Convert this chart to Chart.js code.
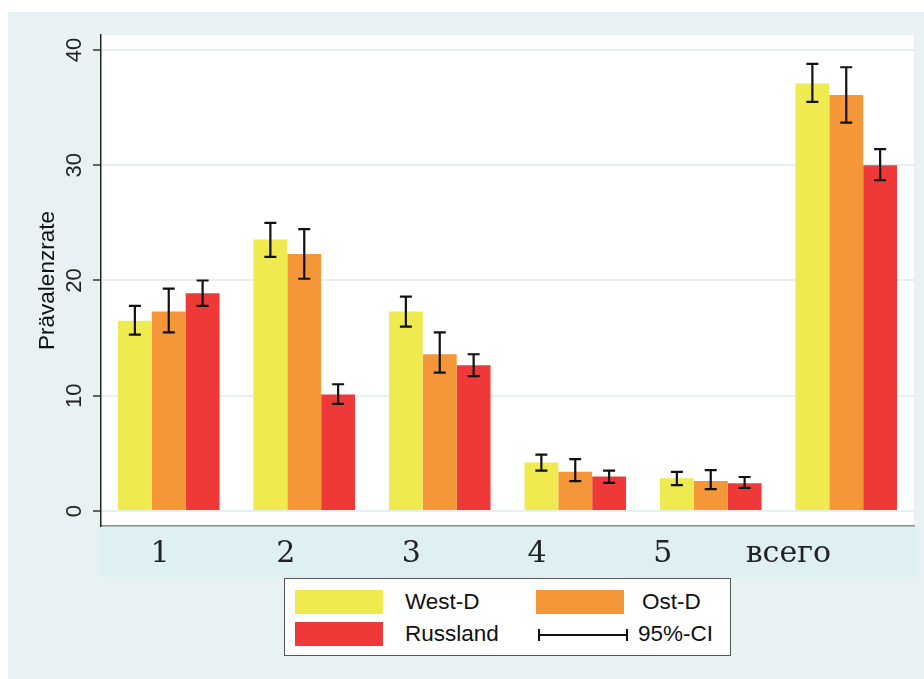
<!DOCTYPE html>
<html>
<head>
<meta charset="utf-8">
<script src="https://cdn.jsdelivr.net/npm/chart.js@4/dist/chart.umd.min.js"></script>
<style>
  html, body { margin: 0; padding: 0; background: #ffffff; }
  #panel { position: absolute; left: 8px; top: 12px; width: 916px; height: 667px; background: #e8f1f3; }
  #wrap { position: absolute; left: 0; top: 0; width: 924px; height: 679px; }
  #legend { position: absolute; left: 284px; top: 578px; width: 445px; height: 76px;
            background: #ffffff; border: 1.5px solid #555; font-family: "Liberation Sans", Arial, sans-serif;
            font-size: 22.5px; color: #111; }
  .sw { position: absolute; width: 88px; height: 24px; }
  .lab { position: absolute; white-space: nowrap; line-height: 26px; }
</style>
</head>
<body>
<div id="panel"></div>
<div id="wrap"><canvas id="chart" width="924" height="679"></canvas></div>
<div id="legend"></div>
<script>
// categories and tick labels
const categories = ["1", "2", "3", "4", "5", "всего"];
const yTicks = [0, 10, 20, 30, 40];

// series values (prevalence) with 95% CI bounds
const westD   = [16.5, 23.55, 17.3, 4.2, 2.85, 37.1];
const westLo  = [15.3, 22.05, 16.0, 3.5, 2.25, 35.5];
const westHi  = [17.8, 25.0, 18.6, 4.9, 3.4, 38.8];

const ostD    = [17.3, 22.3, 13.6, 3.4, 2.6, 36.1];
const ostLo   = [15.5, 20.15, 12.0, 2.6, 1.9, 33.7];
const ostHi   = [19.3, 24.45, 15.5, 4.5, 3.55, 38.5];

const russ    = [18.9, 10.1, 12.65, 3.0, 2.4, 30.0];
const russLo  = [17.8, 9.3, 11.7, 2.45, 2.0, 28.7];
const russHi  = [20.0, 11.0, 13.6, 3.5, 2.95, 31.4];

const seriesNames = ["West-D", "Ost-D", "Russland"];
const seriesColors = ["#eeea50", "#f59738", "#ef3939"];
const ciLabel = "95%-CI";

const lows = [westLo, ostLo, russLo];
const highs = [westHi, ostHi, russHi];

// white plot area + light blue label band
const backdrop = {
  id: 'backdrop',
  beforeDraw(chart) {
    const ctx = chart.ctx;
    const a = chart.chartArea;
    ctx.save();
    ctx.fillStyle = '#ffffff';
    ctx.fillRect(a.left, a.top, a.right - a.left, a.bottom - a.top);
    ctx.fillStyle = '#dff0f5';
    ctx.fillRect(a.left - 1, a.bottom, a.right - a.left + 4, 51);
    ctx.restore();
  }
};

// error bars for the 95% CI
const errorBars = {
  id: 'errorBars',
  afterDatasetsDraw(chart) {
    const ctx = chart.ctx;
    const y = chart.scales.y;
    ctx.save();
    ctx.strokeStyle = '#111';
    ctx.lineWidth = 2.2;
    chart.data.datasets.forEach(function(ds, i) {
      const meta = chart.getDatasetMeta(i);
      meta.data.forEach(function(bar, j) {
        const x = bar.x;
        const top = y.getPixelForValue(highs[i][j]);
        const bot = y.getPixelForValue(lows[i][j]);
        ctx.beginPath();
        ctx.moveTo(x, top); ctx.lineTo(x, bot);
        ctx.moveTo(x - 6, top); ctx.lineTo(x + 6, top);
        ctx.moveTo(x - 6, bot); ctx.lineTo(x + 6, bot);
        ctx.stroke();
      });
    });
    ctx.restore();
  }
};

const ctx = document.getElementById('chart').getContext('2d');
const chart = new Chart(ctx, {
  type: 'bar',
  data: {
    labels: categories,
    datasets: [
      { label: seriesNames[0], data: westD, backgroundColor: seriesColors[0] },
      { label: seriesNames[1], data: ostD, backgroundColor: seriesColors[1] },
      { label: seriesNames[2], data: russ, backgroundColor: seriesColors[2] }
    ]
  },
  options: {
    responsive: false,
    animation: false,
    layout: { padding: { left: 0, top: 35, right: 10, bottom: 0 } },
    categoryPercentage: 0.75,
    barPercentage: 1.0,
    plugins: { legend: { display: false }, tooltip: { enabled: false } },
    scales: {
      x: { display: false },
      // label strip: the text labels sit on their own linear axis
      xl: {
        type: 'linear',
        position: 'bottom',
        offset: false,
        beginAtZero: false,
        min: 0.53,
        max: 7.0,
        afterBuildTicks: function(s) { s.ticks = categories.map((c, i) => ({ value: i + 1 })); },
        afterFit: function(s) { s.height = 153; },
        grid: { display: false, drawTicks: false, offset: false },
        border: { display: true, color: '#8a8a8a', width: 1.5 },
        ticks: {
          padding: 10,
          maxRotation: 0,
          autoSkip: false,
          color: '#222',
          font: { family: 'DejaVu Serif', size: 30 },
          callback: function(v) { return categories[v - 1]; }
        }
      },
      y: {
        min: -1.3,
        max: 41.3,
        afterBuildTicks: function(s) { s.ticks = yTicks.map(v => ({ value: v })); },
        afterFit: function(s) { s.width = 101; },
        grid: { color: '#e6f0f3', lineWidth: 2, tickLength: 8, tickColor: '#333', tickWidth: 1.5 },
        border: { display: true, color: '#222', width: 1.5 },
        ticks: {
          minRotation: 90,
          maxRotation: 90,
          crossAlign: 'center',
          padding: 6,
          color: '#222',
          font: { family: 'Liberation Sans', size: 22 }
        },
        title: {
          display: true,
          text: 'Prävalenzrate',
          color: '#111',
          font: { family: 'Liberation Sans', size: 22.5 },
          padding: { top: 34, bottom: 0 }
        }
      }
    }
  },
  plugins: [backdrop, errorBars]
});

// legend: two columns, built from the series names/colours
const legend = document.getElementById('legend');
const slots = [
  { sw: [10, 11], lab: [120, 10] },
  { sw: [251, 11], lab: [357, 10] },
  { sw: [10, 43], lab: [120, 42] },
  { sw: [251, 43], lab: [353, 42] }
];
seriesNames.forEach(function(name, i) {
  const s = slots[i];
  const sw = document.createElement('div');
  sw.className = 'sw';
  sw.style.left = s.sw[0] + 'px'; sw.style.top = s.sw[1] + 'px';
  sw.style.background = seriesColors[i];
  legend.appendChild(sw);
  const lab = document.createElement('div');
  lab.className = 'lab';
  lab.style.left = s.lab[0] + 'px'; lab.style.top = s.lab[1] + 'px';
  lab.textContent = name;
  legend.appendChild(lab);
});
// CI symbol
const ci = slots[3];
const line = document.createElement('div');
line.style.cssText = 'position:absolute;left:' + (ci.sw[0] + 2) + 'px;top:' + (ci.sw[1] + 12) +
  'px;width:88px;height:0;border-top:2px solid #111;';
legend.appendChild(line);
[0, 88].forEach(function(off) {
  const cap = document.createElement('div');
  cap.style.cssText = 'position:absolute;left:' + (ci.sw[0] + 2 + off) + 'px;top:' + (ci.sw[1] + 7) +
    'px;width:0;height:12px;border-left:2px solid #111;';
  legend.appendChild(cap);
});
const ciLab = document.createElement('div');
ciLab.className = 'lab';
ciLab.style.left = ci.lab[0] + 'px'; ciLab.style.top = ci.lab[1] + 'px';
ciLab.textContent = ciLabel;
legend.appendChild(ciLab);
</script>
</body>
</html>
